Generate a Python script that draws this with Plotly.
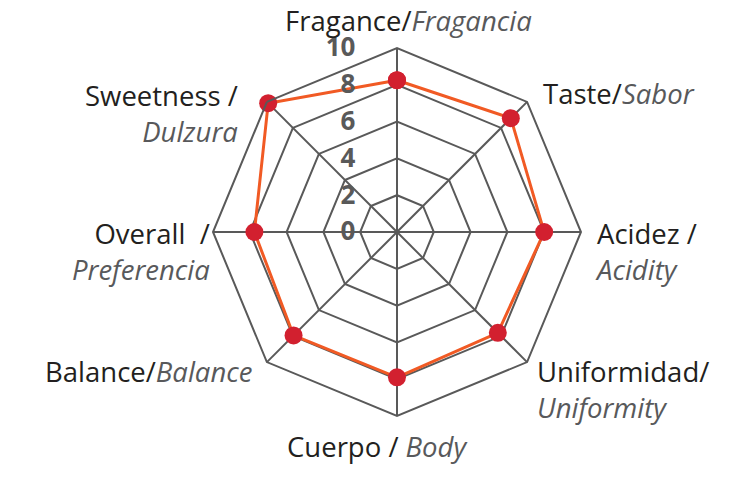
import plotly.graph_objects as go

GREY = "#58595b"

# cupping attributes, clockwise from the top
categories = [
    "Fragance/<span style='color:#58595b'><i>Fragancia</i></span>",
    "Taste/<span style='color:#58595b'><i>Sabor</i></span>",
    "Acidez /<br><span style='color:#58595b'><i>Acidity</i></span>",
    "Uniformidad/<br><span style='color:#58595b'><i>Uniformity</i></span>",
    "Cuerpo / <span style='color:#58595b'><i>Body</i></span>",
    "Balance/<span style='color:#58595b'><i>Balance</i></span>",
    "Overall  /<br><span style='color:#58595b'><i>Preferencia</i></span>",
    "Sweetness /<br><span style='color:#58595b'><i>Dulzura</i></span>",
]
scores = [8.25, 8.75, 8.0, 7.75, 7.9, 7.95, 7.75, 9.9]
radial_ticks = [0, 2, 4, 6, 8, 10]

# where each attribute label sits (paper coords) - plotly's own angular
# labels stack the two-line ones differently from the original
label_pos = [
    (0.5536, 0.9590, "center"),
    (0.7340, 0.8098, "left"),
    (0.8045, 0.4847, "left"),
    (0.7260, 0.2035, "left"),
    (0.5115, 0.0859, "center"),
    (0.3440, 0.2413, "right"),
    (0.2880, 0.4867, "right"),
    (0.3260, 0.7689, "right"),
]

fig = go.Figure()
fig.add_trace(
    go.Scatterpolar(
        r=scores + scores[:1],
        theta=categories + categories[:1],
        mode="lines+markers",
        line=dict(color="#F15A24", width=3),
        marker=dict(color="#D2202F", size=18),
        hoverinfo="r",
    )
)

for text, (x, y, side) in zip(categories, label_pos):
    fig.add_annotation(
        text=text,
        x=x,
        y=y,
        xref="paper",
        yref="paper",
        xanchor=side,
        yanchor="middle",
        align=side,
        showarrow=False,
        font=dict(family="Open Sans", size=27.5, color="#231f20"),
    )

fig.update_layout(
    width=737,
    height=489,
    margin=dict(l=0, r=0, t=0, b=0),
    paper_bgcolor="white",
    showlegend=False,
    font=dict(family="Open Sans", color="#231f20"),
    polar=dict(
        domain=dict(x=[0.2890, 0.7883], y=[0.1493, 0.9018]),
        gridshape="linear",
        bgcolor="white",
        radialaxis=dict(
            range=[0, 10],
            tickvals=radial_ticks,
            angle=90,
            tickangle=90,
            side="counterclockwise",
            showline=False,
            gridcolor="#595959",
            gridwidth=2,
            ticks="outside",
            ticklen=32,
            tickcolor="rgba(0,0,0,0)",
            tickfont=dict(family="Open Sans", size=26, color="#595959", weight="bold"),
        ),
        angularaxis=dict(
            rotation=90,
            direction="clockwise",
            linecolor="#595959",
            linewidth=2,
            gridcolor="#595959",
            gridwidth=2,
            showticklabels=False,
            ticks="",
        ),
    ),
)

# drop the browser's default 8px body margin so the figure sits at 0,0
fig.write_html(
    "out.html",
    config={"displayModeBar": False},
    post_script="document.body.style.margin = '0';",
)
